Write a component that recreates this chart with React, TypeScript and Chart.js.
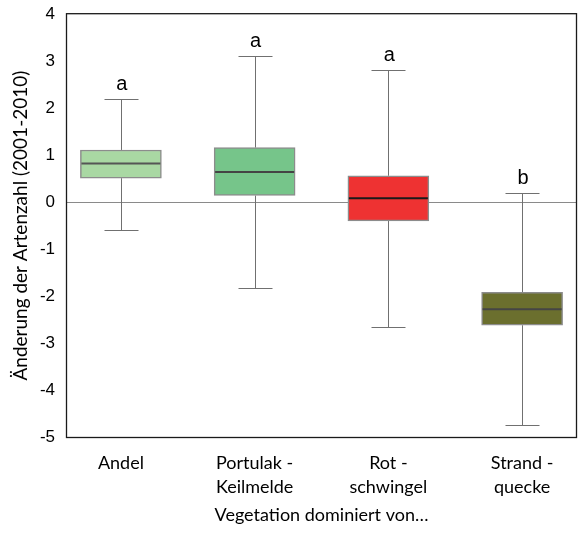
import { useEffect, useRef } from "react";
import { Chart, registerables } from "chart.js";

Chart.register(...registerables);

// Vegetation types (multi-line axis labels)
const categories: string[][] = [
  ["Andel"],
  ["Portulak -", "Keilmelde"],
  ["Rot -", "schwingel"],
  ["Strand -", "quecke"],
];

// Box plot statistics: change in species number 2001-2010
const whiskerLow = [-0.6, -1.82, -2.65, -4.74];
const quartile1 = [0.51, 0.14, -0.4, -2.62];
const medians = [0.82, 0.64, 0.08, -2.28];
const quartile3 = [1.11, 1.16, 0.56, -1.92];
const whiskerHigh = [2.2, 3.11, 2.82, 0.19];

// Significance groups
const groupLetters = ["a", "a", "a", "b"];

const fillColors = ["#a9d8a3", "#76c58a", "#ee3232", "#6b6f2e"];
const medianColors = ["#555555", "#444444", "#1a1a1a", "#454545"];

const yMin = -5;
const yMax = 4;

const boxPlotPlugin = {
  id: "boxWhiskers",
  beforeDatasetsDraw(chart: any) {
    const { ctx, chartArea, scales } = chart;
    const x = scales.x;
    const y = scales.y;
    ctx.save();
    // reference line at zero
    ctx.strokeStyle = "#8a8a8a";
    ctx.lineWidth = 1.2;
    const y0 = Math.round(y.getPixelForValue(0)) + 0.5;
    ctx.beginPath();
    ctx.moveTo(chartArea.left, y0);
    ctx.lineTo(chartArea.right, y0);
    ctx.stroke();

    // whiskers and caps
    ctx.strokeStyle = "#707070";
    ctx.lineWidth = 1;
    categories.forEach((_, i) => {
      const px = Math.round(x.getPixelForValue(i + 1)) + 0.5;
      const hi = Math.round(y.getPixelForValue(whiskerHigh[i])) + 0.5;
      const lo = Math.round(y.getPixelForValue(whiskerLow[i])) + 0.5;
      const top = y.getPixelForValue(quartile3[i]);
      const bot = y.getPixelForValue(quartile1[i]);
      ctx.beginPath();
      ctx.moveTo(px, hi);
      ctx.lineTo(px, top);
      ctx.moveTo(px, bot);
      ctx.lineTo(px, lo);
      ctx.moveTo(px - 17, hi);
      ctx.lineTo(px + 17, hi);
      ctx.moveTo(px - 17, lo);
      ctx.lineTo(px + 17, lo);
      ctx.stroke();
    });
    ctx.restore();
  },
  afterDatasetsDraw(chart: any) {
    const { ctx, chartArea, scales } = chart;
    const x = scales.x;
    const y = scales.y;
    const meta = chart.getDatasetMeta(0);
    ctx.save();
    // medians
    ctx.lineWidth = 2;
    categories.forEach((_, i) => {
      const bar = meta.data[i];
      const half = bar.width / 2;
      const py = y.getPixelForValue(medians[i]);
      ctx.strokeStyle = medianColors[i];
      ctx.beginPath();
      ctx.moveTo(bar.x - half + 1, py);
      ctx.lineTo(bar.x + half - 1, py);
      ctx.stroke();
    });

    // group letters above the upper whiskers
    ctx.fillStyle = "#000";
    ctx.font = "20px 'Liberation Sans', Arial, sans-serif";
    ctx.textAlign = "center";
    ctx.textBaseline = "alphabetic";
    categories.forEach((_, i) => {
      const px = x.getPixelForValue(i + 1) + 1;
      const py = y.getPixelForValue(whiskerHigh[i]) - 9;
      ctx.fillText(groupLetters[i], px, py);
    });

    // frame around the plot area
    ctx.strokeStyle = "#1a1a1a";
    ctx.lineWidth = 1.3;
    ctx.strokeRect(
      chartArea.left - 0.5,
      chartArea.top - 0.5,
      chartArea.right - chartArea.left + 1,
      chartArea.bottom - chartArea.top + 1
    );
    ctx.restore();
  },
};

export default function App() {
  const canvasRef = useRef<HTMLCanvasElement | null>(null);

  useEffect(() => {
    if (!canvasRef.current) return;
    const chart = new Chart(canvasRef.current, {
      type: "bar",
      data: {
        datasets: [
          {
            data: categories.map((_, i) => ({
              x: i + 1,
              y: [quartile1[i], quartile3[i]],
            })) as any,
            backgroundColor: fillColors,
            borderColor: "#8c8c8c",
            borderWidth: 1.5,
            borderSkipped: false,
            barThickness: 81,
          },
        ],
      },
      options: {
        animation: false,
        responsive: true,
        maintainAspectRatio: false,
        layout: { padding: { top: 11, right: 3, left: 0, bottom: 0 } },
        plugins: {
          legend: { display: false },
          tooltip: { enabled: false },
        },
        scales: {
          x: {
            type: "linear",
            min: 0.597,
            max: 4.403,
            offset: false,
            grace: 0,
            grid: { display: false },
            border: { display: false },
            afterBuildTicks: (scale: any) => {
              scale.ticks = categories.map((_, i) => ({ value: i + 1 }));
            },
            afterFit: (scale: any) => {
              scale.height = 98;
            },
            ticks: {
              autoSkip: false,
              maxRotation: 0,
              padding: 6,
              color: "#000",
              font: { family: "Lato, 'Open Sans', sans-serif", size: 18, lineHeight: 1.35 },
              callback: (value: any) => categories[Math.round(Number(value)) - 1] ?? "",
            },
            title: {
              display: true,
              text: "Vegetation dominiert von…",
              color: "#000",
              font: { family: "Lato, 'Open Sans', sans-serif", size: 18 },
              padding: { top: 0, bottom: 9 },
            },
          },
          y: {
            min: yMin,
            max: yMax,
            grid: { display: false },
            border: { display: false },
            afterFit: (scale: any) => {
              scale.width = 67;
            },
            ticks: {
              stepSize: 1,
              padding: 4,
              color: "#000",
              font: { family: "'Liberation Sans', Arial, sans-serif", size: 17 },
              callback: (value: any) => String(value),
            },
            title: {
              display: true,
              text: "Änderung der Artenzahl (2001-2010)",
              color: "#000",
              font: { family: "Lato, 'Open Sans', sans-serif", size: 19 },
              padding: { top: 9, bottom: 0 },
            },
          },
        },
      },
      plugins: [boxPlotPlugin],
    });
    return () => chart.destroy();
  }, []);

  return (
    <div
      style={{
        position: "absolute",
        left: 0,
        top: 0,
        width: 579,
        height: 535,
        background: "#fff",
      }}
    >
      <canvas ref={canvasRef} />
    </div>
  );
}
